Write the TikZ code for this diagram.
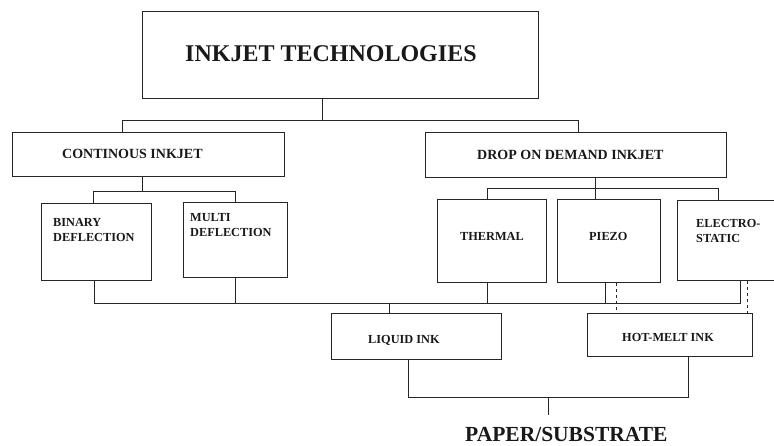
\documentclass[tikz,border=0pt]{standalone}
\usepackage{fontspec}
\setmainfont{Liberation Serif}
\begin{document}
\begin{tikzpicture}[x=1pt,y=-1pt,
  box/.style={draw=black!85, line width=1pt, inner sep=0pt, rectangle},
  ln/.style={draw=black!85, line width=1pt},
  dl/.style={draw=black!85, line width=1pt, dash pattern=on 3pt off 3pt},
  lbl/.style={anchor=base west, inner sep=0pt, text=black!90, font=\bfseries\fontsize{12.3}{15}\selectfont},
  mid/.style={lbl, font=\bfseries\fontsize{14}{16}\selectfont},
  big/.style={lbl, font=\bfseries\fontsize{24}{28}\selectfont},
  bigb/.style={lbl, font=\bfseries\fontsize{21.5}{26}\selectfont}]
\clip (0,0) rectangle (774,446);
\fill[white] (0,0) rectangle (774,446);
% boxes
\node[box, minimum width=396pt, minimum height=87pt] (top) at (340,55.5) {};
\node[box, minimum width=272pt, minimum height=44pt] (cont) at (148,155) {};
\node[box, minimum width=301pt, minimum height=45pt] (drop) at (575.5,155.5) {};
\node[box, minimum width=110pt, minimum height=77pt] (bin) at (96,242.5) {};
\node[box, minimum width=104pt, minimum height=75pt] (multi) at (235,240.5) {};
\node[box, minimum width=109pt, minimum height=83pt] (therm) at (491.5,241.5) {};
\node[box, minimum width=103pt, minimum height=83pt] (piezo) at (608.5,241.5) {};
\node[box, minimum width=123pt, minimum height=80pt] (elec) at (738.5,241) {};
\node[box, minimum width=170pt, minimum height=46pt] (liq) at (416,337) {};
\node[box, minimum width=165pt, minimum height=43pt] (hot) at (669.5,335.5) {};
% texts
\node[big] (ttop) at (185,62) {INKJET TECHNOLOGIES};
\node[mid] (tcont) at (62,159) {CONTINOUS INKJET};
\node[mid] (tdrop) at (477,160) {DROP ON DEMAND INKJET};
\node[lbl] (tbin1) at (53,227) {BINARY};
\node[lbl] (tbin2) at (53,242) {DEFLECTION};
\node[lbl] (tmul1) at (190,222) {MULTI};
\node[lbl] (tmul2) at (190,237) {DEFLECTION};
\node[lbl] (tthe) at (460,241) {THERMAL};
\node[lbl] (tpie) at (589,241) {PIEZO};
\node[lbl] (tel1) at (696,228) {ELECTRO-};
\node[lbl] (tel2) at (696,243) {STATIC};
\node[lbl] (tliq) at (368,344) {LIQUID INK};
\node[lbl] (thot) at (622,342) {HOT-MELT INK};
\node[bigb] (paper) at (465,441.5) {PAPER/SUBSTRATE};
\coordinate (ptop) at (548,415);
% connectors level 1
\draw[ln] (top.south -| 322,0) -- (322,121);
\draw[ln] (cont.north -| 122,0) |- (578,121) -- (drop.north -| 578,0);
% continuous branch
\draw[ln] (cont.south -| 142,0) -- (142,192);
\draw[ln] (bin.north -| 93,0) |- (235,192) -- (multi.north -| 235,0);
% drop on demand branch
\draw[ln] (drop.south -| 595,0) -- (piezo.north -| 595,0);
\draw[ln] (therm.north -| 487,0) |- (718,189) -- (elec.north -| 718,0);
% bus to liquid ink
\draw[ln] (bin.south -| 94,0) |- (740,304) -- (elec.south -| 740,0);
\draw[ln] (multi.south -| 235,0) -- (235,304);
\draw[ln] (therm.south -| 487,0) -- (487,304);
\draw[ln] (piezo.south -| 605,0) -- (605,304);
\draw[ln] (liq.north -| 389,0) -- (389,304);
% dashed to hot-melt
\draw[dl] (piezo.south -| 616,0) -- (hot.north -| 616,0);
\draw[dl] (elec.south -| 747,0) -- (hot.north -| 747,0);
% to paper
\draw[ln] (liq.south -| 408,0) |- (688,397) -- (hot.south -| 688,0);
\draw[ln] (548,397) -- (ptop);
\end{tikzpicture}
\end{document}
